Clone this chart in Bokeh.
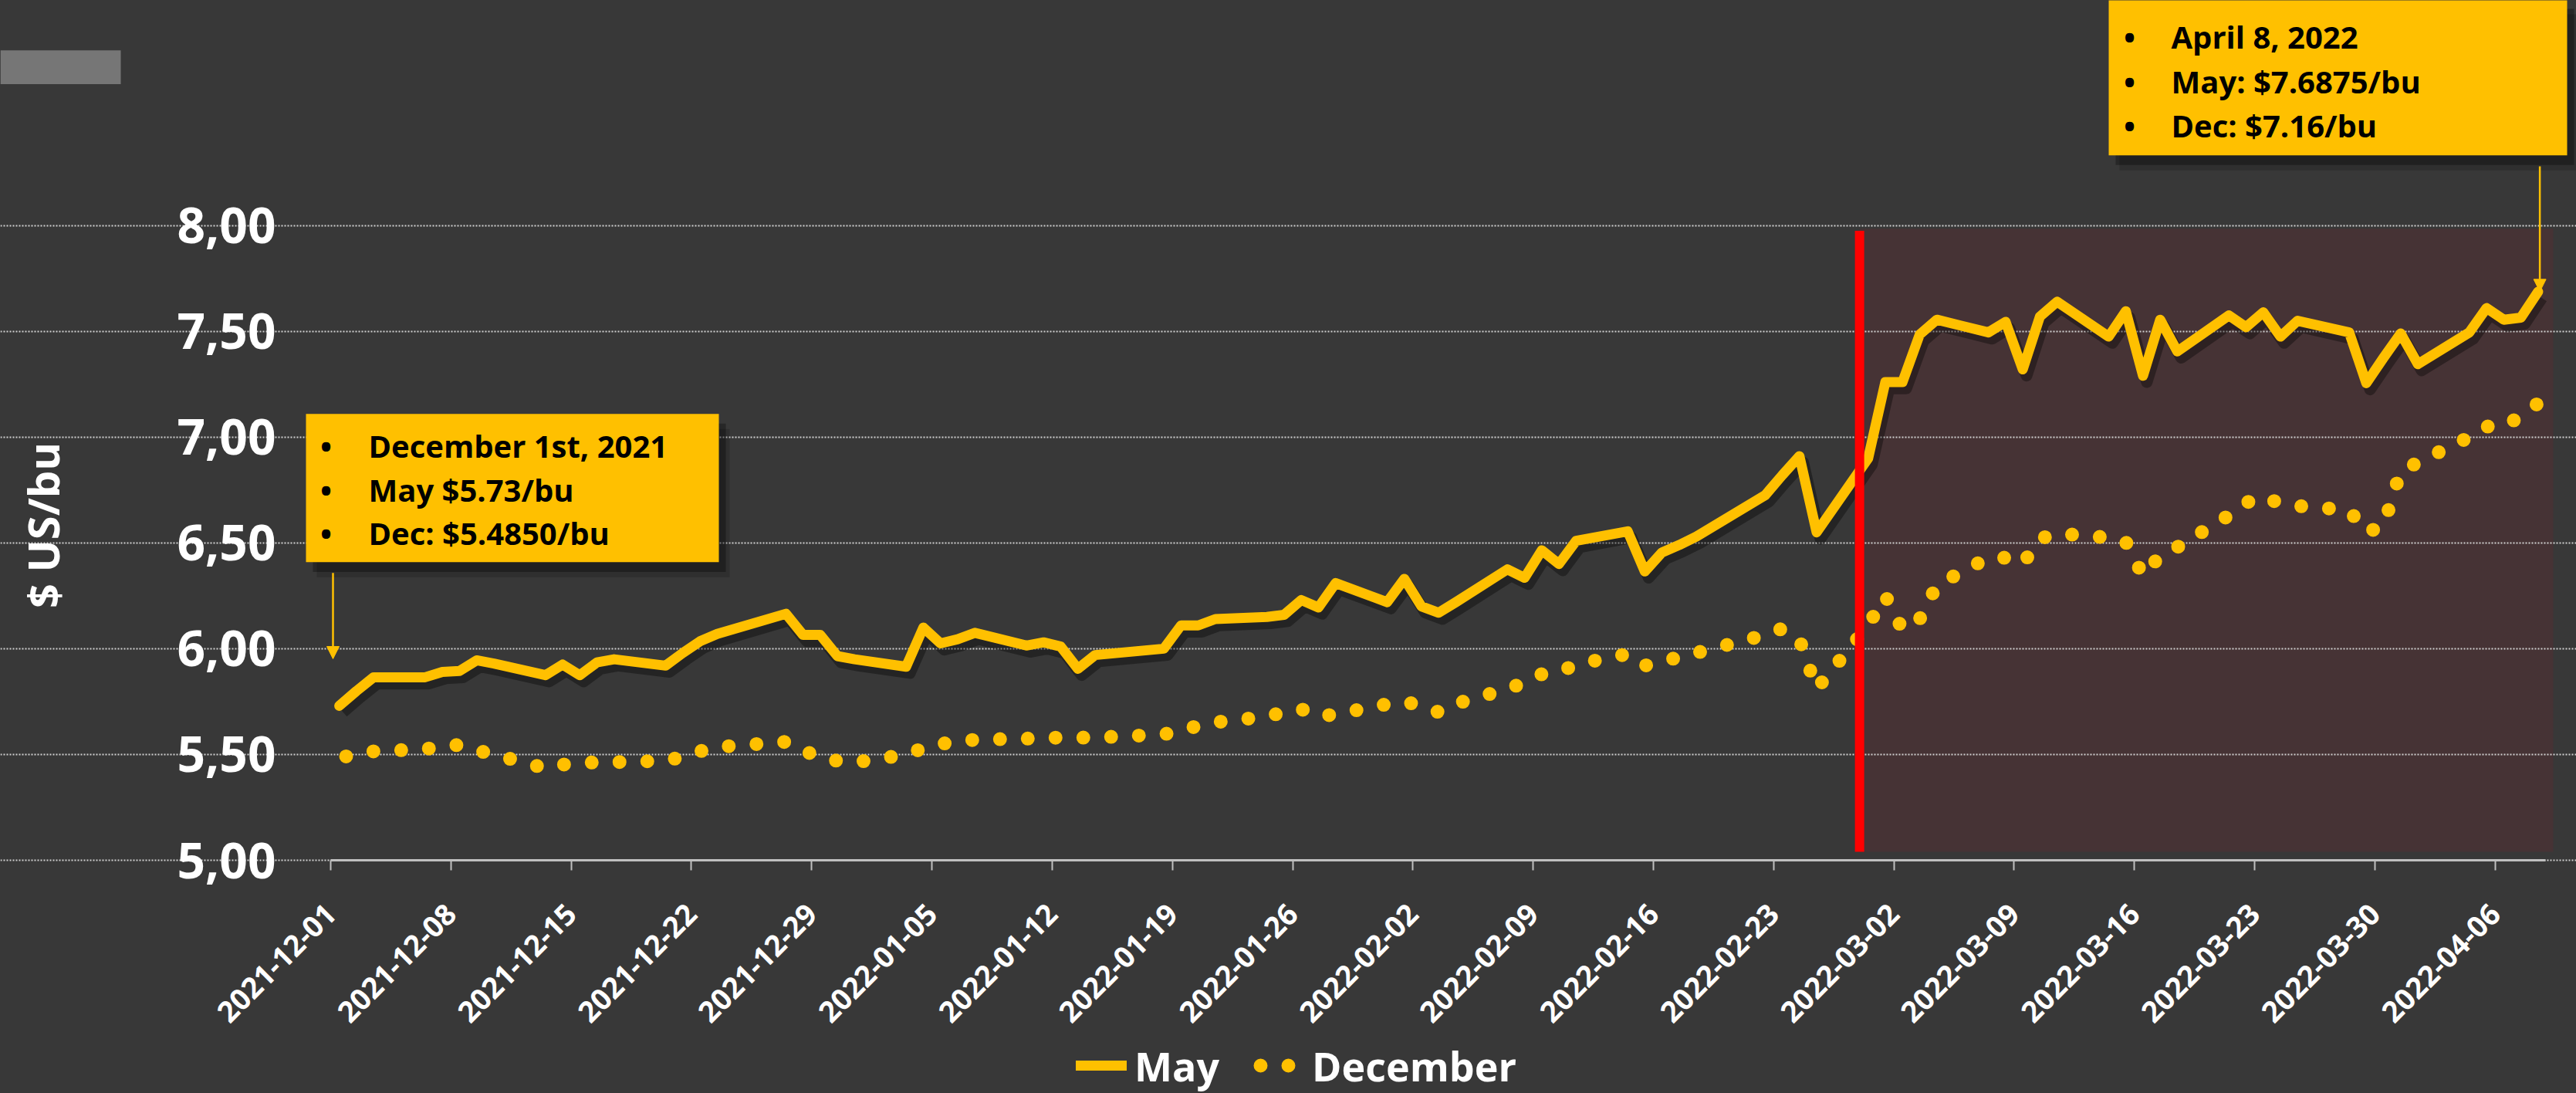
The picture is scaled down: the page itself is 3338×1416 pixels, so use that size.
import math
import pandas as pd
from bokeh.plotting import figure
from bokeh.models import (Range1d, FixedTicker, DatetimeTickFormatter, CustomJSTickFormatter,
                          ColumnDataSource, BoxAnnotation, Label, Arrow, NormalHead,
                          Legend, LegendItem)
from bokeh.transform import dodge
from bokeh.embed import file_html
from bokeh.resources import INLINE

# ---------------- data ----------------
dates = [
    "2021-12-01", "2021-12-02", "2021-12-03", "2021-12-06", "2021-12-07", "2021-12-08",
    "2021-12-09", "2021-12-10", "2021-12-13", "2021-12-14", "2021-12-15", "2021-12-16",
    "2021-12-17", "2021-12-20", "2021-12-21", "2021-12-22", "2021-12-23", "2021-12-27",
    "2021-12-28", "2021-12-29", "2021-12-30", "2021-12-31",
    "2022-01-03", "2022-01-04", "2022-01-05", "2022-01-06", "2022-01-07", "2022-01-10",
    "2022-01-11", "2022-01-12", "2022-01-13", "2022-01-14", "2022-01-18", "2022-01-19",
    "2022-01-20", "2022-01-21", "2022-01-24", "2022-01-25", "2022-01-26", "2022-01-27",
    "2022-01-28", "2022-01-31",
    "2022-02-01", "2022-02-02", "2022-02-03", "2022-02-04", "2022-02-07", "2022-02-08",
    "2022-02-09", "2022-02-10", "2022-02-11", "2022-02-14", "2022-02-15", "2022-02-16",
    "2022-02-17", "2022-02-18", "2022-02-22", "2022-02-23", "2022-02-24", "2022-02-25",
    "2022-02-28",
    "2022-03-01", "2022-03-02", "2022-03-03", "2022-03-04", "2022-03-07", "2022-03-08",
    "2022-03-09", "2022-03-10", "2022-03-11", "2022-03-14", "2022-03-15", "2022-03-16",
    "2022-03-17", "2022-03-18", "2022-03-21", "2022-03-22", "2022-03-23", "2022-03-24",
    "2022-03-25", "2022-03-28", "2022-03-29", "2022-03-30", "2022-03-31",
    "2022-04-01", "2022-04-04", "2022-04-05", "2022-04-06", "2022-04-07", "2022-04-08",
]

may = [
    5.73, 5.80, 5.865, 5.865, 5.89, 5.895, 5.945, 5.93, 5.875, 5.925, 5.875, 5.935,
    5.95, 5.92, 5.98, 6.035, 6.07, 6.165, 6.065, 6.065, 5.965, 5.95,
    5.915, 6.10, 6.025, 6.045, 6.075, 6.015, 6.03, 6.01, 5.905, 5.97, 6.00, 6.11,
    6.11, 6.14, 6.15, 6.16, 6.23, 6.195, 6.31, 6.22,
    6.33, 6.20, 6.17, 6.22, 6.375, 6.335, 6.465, 6.40, 6.51, 6.555, 6.365, 6.455,
    6.49, 6.53, 6.725, 6.82, 6.91, 6.55, 6.90,
    7.26, 7.26, 7.485, 7.555, 7.495, 7.545, 7.32, 7.57, 7.64, 7.475, 7.595, 7.29,
    7.555, 7.405, 7.575, 7.52, 7.59, 7.475, 7.55, 7.495, 7.255, 7.375, 7.49,
    7.345, 7.495, 7.61, 7.555, 7.565, 7.6875,
]

december = [
    5.485, 5.50, 5.515, 5.525, 5.54, 5.545, 5.52, 5.50, 5.435, 5.452, 5.46, 5.463,
    5.464, 5.47, 5.49, 5.515, 5.535, 5.56, 5.52, 5.485, 5.47, 5.462,
    5.50, 5.53, 5.55, 5.56, 5.57, 5.575, 5.578, 5.58, 5.58, 5.58, 5.595, 5.615,
    5.635, 5.652, 5.68, 5.70, 5.715, 5.68, 5.69, 5.738,
    5.75, 5.73, 5.70, 5.74, 5.81, 5.84, 5.88, 5.89, 5.925, 5.975, 5.92, 5.94,
    5.96, 5.98, 6.065, 6.095, 6.045, 5.81, 6.11,
    6.25, 6.09, 6.14, 6.30, 6.43, 6.43, 6.40, 6.52, 6.545, 6.525, 6.505, 6.345,
    6.44, 6.48, 6.63, 6.69, 6.72, 6.685, 6.675, 6.655, 6.55, 6.58, 6.84,
    6.88, 7.00, 7.05, 7.05, 7.10, 7.16,
]

tick_labels = [
    "2021-12-01", "2021-12-08", "2021-12-15", "2021-12-22", "2021-12-29",
    "2022-01-05", "2022-01-12", "2022-01-19", "2022-01-26",
    "2022-02-02", "2022-02-09", "2022-02-16", "2022-02-23",
    "2022-03-02", "2022-03-09", "2022-03-16", "2022-03-23", "2022-03-30",
    "2022-04-06",
]
y_ticks = [5.0, 5.5, 6.0, 6.5, 7.0, 7.5, 8.0]
event_date = "2022-02-28"

left_note = ["December 1st, 2021", "May $5.73/bu", "Dec: $5.4850/bu"]
right_note = ["April 8, 2022", "May: $7.6875/bu", "Dec: $7.16/bu"]

# ---------------- styling ----------------
BG = "#383838"
GOLD = "#FFC000"
SHADE = "#463335"
FONT = "Open Sans"
DAY = 86400000.0
PX_DAY = 22.26      # pixels per day
PX_UNIT = 274.1     # pixels per $ on the y axis
W, H = 3338, 1416
X0_PX = 428         # pixel column of 2021-12-01
AXIS_Y = 1114       # pixel row of the 5,00 baseline
EXTRA = 300         # room for the axis panel, below the visible window

def ms(s):
    return pd.Timestamp(s).value / 1e6

x0 = ms("2021-12-01")
def xd(days):
    return x0 + days * DAY
def px2d(px):
    return (px - X0_PX) / PX_DAY

x = pd.to_datetime(dates) + pd.Timedelta(hours=12)
src = ColumnDataSource(dict(x=x, may=may, dec=december))

p = figure(width=W, height=H + EXTRA, x_axis_type="datetime",
           x_range=Range1d(xd(px2d(0)), xd(px2d(W))),
           y_range=Range1d(5.0 - (H - AXIS_Y) / PX_UNIT, 5.0 + AXIS_Y / PX_UNIT),
           output_backend="svg", toolbar_location=None,
           min_border_left=0, min_border_right=0,
           min_border_top=0, min_border_bottom=EXTRA,
           background_fill_color=BG, border_fill_color=BG, outline_line_color=None)

# shaded period after the event (drawn below grid)
shade_src = ColumnDataSource(dict(l=[ms(event_date)], r=[xd(px2d(3308))], t=[7.985], b=[5.04]))
p.quad(left="l", right="r", top="t", bottom="b", source=shade_src,
       fill_color=SHADE, line_color=None, level="underlay")

# grid
p.xgrid.visible = False
p.ygrid.ticker = FixedTicker(ticks=y_ticks)
p.ygrid.bounds = (x0, xd(px2d(3300)))
p.ygrid.grid_line_color = "#D0D0D0"
p.ygrid.grid_line_width = 2
p.ygrid.grid_line_dash = "2 2"

# x axis, drawn at the 5,00 level
p.xaxis.fixed_location = 5.0
p.xaxis.bounds = (x0, xd(px2d(3298)))
p.xaxis.ticker = FixedTicker(ticks=[ms(t) for t in tick_labels])
p.xaxis.formatter = DatetimeTickFormatter(days="%Y-%m-%d", months="%Y-%m-%d", years="%Y-%m-%d",
                                          hours="%Y-%m-%d")
p.xaxis.major_label_orientation = math.pi / 4
p.xaxis.major_label_text_font = FONT
p.xaxis.major_label_text_font_style = "bold"
p.xaxis.major_label_text_font_size = "38px"
p.xaxis.major_label_text_color = "white"
p.xaxis.major_label_standoff = 50
p.xaxis.axis_line_color = "#BFBFBF"
p.xaxis.axis_line_width = 3
p.xaxis.major_tick_line_color = "#BFBFBF"
p.xaxis.major_tick_line_width = 2
p.xaxis.major_tick_out = 13
p.xaxis.major_tick_in = 0
p.xaxis.minor_tick_line_color = None

# y axis: sits at the canvas edge, labels pushed right to end 70px before 2021-12-01
p.yaxis.ticker = FixedTicker(ticks=y_ticks)
p.yaxis.formatter = CustomJSTickFormatter(code="return tick.toFixed(2).replace('.', ',');")
p.yaxis.major_label_text_font = FONT
p.yaxis.major_label_text_font_style = "bold"
p.yaxis.major_label_text_font_size = "64px"
p.yaxis.major_label_text_color = "white"
p.yaxis.major_label_standoff = -(X0_PX - 71)
p.yaxis.axis_line_color = None
p.yaxis.major_tick_line_color = None
p.yaxis.major_tick_out = 0
p.yaxis.minor_tick_line_color = None
p.yaxis.axis_label = "\u2003$ US/bu"
p.yaxis.axis_label_text_font = FONT
p.yaxis.axis_label_text_font_style = "bold"
p.yaxis.axis_label_text_font_size = "56px"
p.yaxis.axis_label_text_color = "white"
p.yaxis.axis_label_standoff = 133

# grey tab, top left
p.add_layout(BoxAnnotation(left=xd(px2d(0)), right=xd(px2d(156)), top=8.828, bottom=8.668,
                           fill_color="#767676", fill_alpha=1, line_color=None, level="underlay"))

# series
p.line(x=dodge("x", 0.22 * DAY, range=p.x_range), y=dodge("may", -0.03, range=p.y_range),
       source=src, line_color="black", line_alpha=0.35, line_width=15, line_join="round")
dec_r = p.line("x", "dec", source=src, line_color=GOLD, line_width=18,
               line_dash="0 36", line_dash_offset=27, line_cap="round", line_join="round")
may_r = p.line("x", "may", source=src, line_color=GOLD, line_width=13,
               line_cap="round", line_join="round")

# event marker
p.segment(x0=[ms(event_date)], x1=[ms(event_date)], y0=[5.04], y1=[7.975],
          line_color="#FF0000", line_width=12)

# annotation boxes
def note(left, right, top, bottom, lines, ys, bx, tx):
    for off, a in ((14, 0.15), (9, 0.3)):
        p.add_layout(BoxAnnotation(left=left + off / PX_DAY * DAY, right=right + off / PX_DAY * DAY,
                                   top=top - off * 1.4 / PX_UNIT, bottom=bottom - off * 1.4 / PX_UNIT,
                                   fill_color="black", fill_alpha=a, line_color=None))
    p.add_layout(BoxAnnotation(left=left, right=right, top=top, bottom=bottom,
                               fill_color=GOLD, fill_alpha=1, line_color=None))
    for t, yy in zip(lines, ys):
        p.add_layout(Label(x=bx, y=yy, text="•", text_font=FONT, text_font_style="bold",
                           text_font_size="40px", text_color="black",
                           text_align="center", text_baseline="middle"))
        p.add_layout(Label(x=tx, y=yy, text=t, text_font=FONT, text_font_style="bold",
                           text_font_size="40px", text_color="black",
                           text_align="left", text_baseline="middle"))

note(xd(px2d(396)), xd(px2d(931)), 7.11, 6.409, left_note, [6.96, 6.752, 6.548],
     xd(px2d(422)), xd(px2d(477)))
note(xd(px2d(2732)), xd(px2d(3326)), 9.07, 8.332, right_note, [8.894, 8.682, 8.474],
     xd(px2d(2759)), xd(px2d(2813)))

head = dict(size=16, fill_color=GOLD, line_color=GOLD)
x_first = xd(px2d(431))
p.add_layout(Arrow(end=NormalHead(**head), x_start=x_first, x_end=x_first,
                   y_start=6.358, y_end=5.952, line_color=GOLD, line_width=2.5))
x_last = ms(dates[-1]) + 0.6 * DAY
p.add_layout(Arrow(end=NormalHead(**head), x_start=x_last, x_end=x_last,
                   y_start=8.28, y_end=may[-1], line_color=GOLD, line_width=2.5))

# legend (inside the frame, under the date labels)
legend = Legend(items=[LegendItem(label="May", renderers=[may_r]),
                       LegendItem(label="December", renderers=[dec_r])],
                location=(1394, -4), orientation="horizontal",
                background_fill_alpha=0, border_line_color=None,
                label_text_font=FONT, label_text_font_style="bold",
                label_text_font_size="52px", label_text_color="white",
                glyph_width=66, glyph_height=80, label_height=80,
                label_standoff=10, spacing=44, padding=0, margin=0)
p.add_layout(legend)

html = file_html(p, INLINE)
html = html.replace("<head>",
                    "<head><style>html,body{margin:0;padding:0;overflow:hidden;background:#383838;}</style>", 1)
open("out.html", "w").write(html)
